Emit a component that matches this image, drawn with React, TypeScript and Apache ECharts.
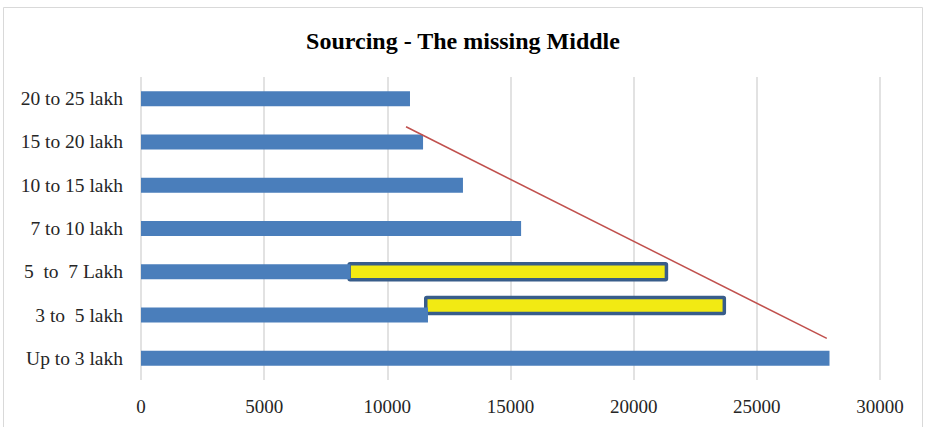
import React, { useEffect, useRef } from "react";
import * as echarts from "echarts";

const title = "Sourcing - The missing Middle";
const categories = ["Up to 3 lakh", "3 to  5 lakh", "5  to  7 Lakh", "7 to 10 lakh", "10 to 15 lakh", "15 to 20 lakh", "20 to 25 lakh"];
const blueValues = [27950, 11650, 8500, 15430, 13070, 11450, 10920];
// yellow highlight boxes: [start, end, position on category scale]
const highlightStarts = [8450, 11560];
const highlightEnds = [21330, 23680];
const highlightPositions = [2, 1.22];
// trend line: [x, category position]
const trendX = [10760, 27840];
const trendY = [5.35, 0.46];

export default function App() {
  const ref = useRef<HTMLDivElement>(null);
  useEffect(() => {
    if (!ref.current) return;
    const chart = echarts.init(ref.current, null, { renderer: "svg" });
    const font = "'Liberation Serif', 'DejaVu Serif', serif";
    chart.setOption({
      animation: false,
      backgroundColor: "#ffffff",
      title: {
        text: title,
        left: "center",
        top: 24,
        textStyle: { fontFamily: font, fontSize: 24, fontWeight: "bold", color: "#000000" },
      },
      graphic: [
        {
          type: "rect",
          shape: { x: 3.5, y: 7.5, width: 919, height: 440 },
          style: { fill: "none", stroke: "#d9d9d9", lineWidth: 1 },
          silent: true,
        },
      ],
      grid: { left: 141, right: 46, top: 77, bottom: 47 },
      xAxis: {
        type: "value",
        min: 0,
        max: 30000,
        interval: 5000,
        axisLine: { show: false },
        axisTick: { show: false },
        splitLine: { show: true, lineStyle: { color: "#d9d9d9", width: 1.5 } },
        axisLabel: {
          fontFamily: font,
          fontSize: 19,
          color: "#262626",
          margin: 17,
          formatter: (v: number) => String(v),
        },
      },
      yAxis: [
        {
          type: "category",
          data: categories,
          axisLine: { show: false },
          axisTick: { show: false },
          axisLabel: { fontFamily: font, fontSize: 19.5, color: "#262626", margin: 18 },
        },
        {
          type: "value",
          min: -0.5,
          max: 6.5,
          show: false,
        },
      ],
      series: [
        {
          type: "bar",
          data: blueValues,
          barWidth: 15,
          itemStyle: { color: "#4a7ebb" },
          yAxisIndex: 0,
        },
        {
          type: "custom",
          xAxisIndex: 0,
          yAxisIndex: 1,
          data: highlightStarts.map((s, i) => [s, highlightEnds[i], highlightPositions[i]]),
          encode: { x: [0, 1], y: 2 },
          renderItem: (params: any, api: any) => {
            const p0 = api.coord([api.value(0), api.value(2)]);
            const p1 = api.coord([api.value(1), api.value(2)]);
            const h = 16;
            return {
              type: "rect",
              shape: { x: p0[0], y: p0[1] - h / 2, width: p1[0] - p0[0], height: h, r: 1 },
              style: { fill: "#f2ea13", stroke: "#385d8a", lineWidth: 3.5 },
            };
          },
        },
        {
          type: "line",
          xAxisIndex: 0,
          yAxisIndex: 1,
          data: trendX.map((x, i) => [x, trendY[i]]),
          symbol: "none",
          lineStyle: { color: "#c0504d", width: 1.5 },
        },
      ],
    });
    return () => chart.dispose();
  }, []);
  return (
    <div
      ref={ref}
      style={{ position: "absolute", left: 0, top: 0, width: 926, height: 427 }}
    />
  );
}
